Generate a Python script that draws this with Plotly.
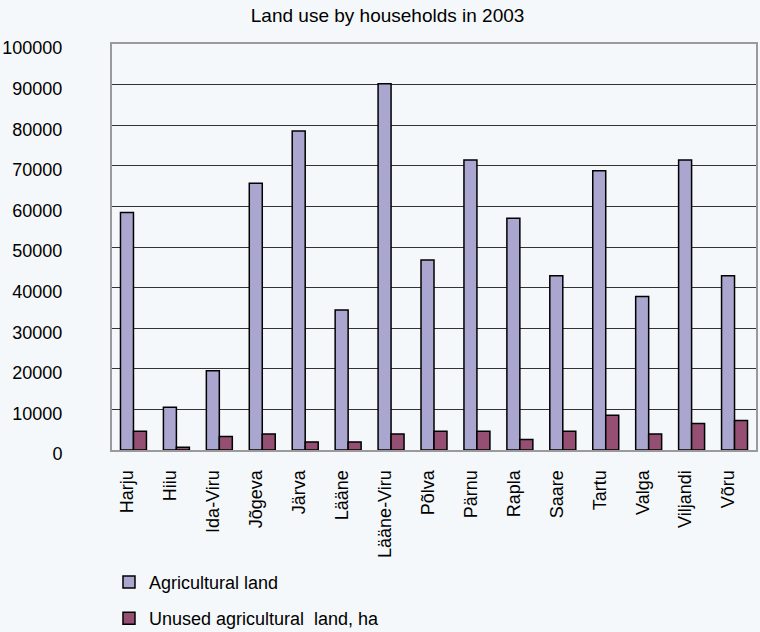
import plotly.graph_objects as go

counties = ["Harju", "Hiiu", "Ida-Viru", "Jõgeva", "Järva", "Lääne", "Lääne-Viru",
            "Põlva", "Pärnu", "Rapla", "Saare", "Tartu", "Valga", "Viljandi", "Võru"]
agricultural_land = [58500, 10500, 19500, 65700, 78600, 34500, 90200,
                     46800, 71400, 57100, 42900, 68800, 37800, 71400, 42900]
unused_land = [4600, 700, 3300, 3950, 2000, 2000, 3950,
               4600, 4600, 2600, 4600, 8550, 3950, 6550, 7250]
y_ticks = list(range(0, 100001, 10000))

FONT = "Liberation Sans, Arial, sans-serif"
BG = "#f5f8fa"

fig = go.Figure()
fig.add_trace(go.Bar(
    x=counties, y=agricultural_land, name="Agricultural land",
    marker=dict(color="#a9a7cf", line=dict(color="#000000", width=1.5)),
    legendgroup="a",
))
fig.add_trace(go.Bar(
    x=counties, y=unused_land, name="Unused agricultural  land, ha",
    marker=dict(color="#954f72", line=dict(color="#000000", width=1.5)),
    legendgroup="b",
))

fig.update_layout(
    width=760, height=632,
    margin=dict(l=112, r=4, t=44, b=182, autoexpand=False),
    paper_bgcolor=BG, plot_bgcolor=BG,
    font=dict(family=FONT, size=18, color="#000000"),
    title=dict(text="Land use by households in 2003", x=0.51, xanchor="center",
               y=0.976, yanchor="middle", font=dict(size=19)),
    barmode="group", bargap=0.395, bargroupgap=0,
    showlegend=True,
    legend=dict(xref="container", yref="container",
                x=0.1434, xanchor="left", y=0.108, yanchor="top",
                orientation="v", traceorder="grouped", tracegroupgap=10,
                itemwidth=30, bgcolor="rgba(0,0,0,0)",
                font=dict(size=18)),
)
fig.update_xaxes(
    tickangle=-90, showgrid=False, ticks="", automargin=False,
    showline=True, linecolor="#9a9a9a", linewidth=2, mirror=True,
    ticklabelstandoff=11, ticklabelshift=-6,
    tickfont=dict(size=18),
)
fig.update_yaxes(
    range=[0, 100000], tickvals=y_ticks, ticktext=[str(v) for v in y_ticks],
    showgrid=True, gridcolor="#333333", gridwidth=1, automargin=False,
    showline=True, linecolor="#9a9a9a", linewidth=2, mirror=True,
    zeroline=False, ticks="", ticklabelstandoff=44, ticklabelshift=4,
    tickfont=dict(size=18),
)

fig.write_html("out.html")
